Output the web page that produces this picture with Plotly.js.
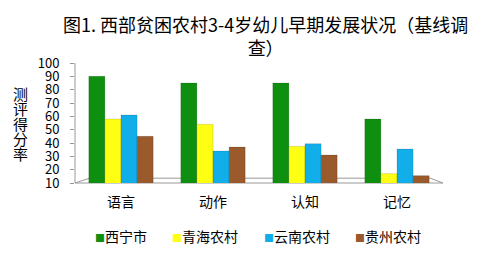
<!DOCTYPE html>
<html><head><meta charset="utf-8">
<script src="https://cdn.plot.ly/plotly-3.0.1.min.js"></script>
<style>body{margin:0;background:#fff}#c{width:477px;height:255px}</style>
</head><body><div id="c"></div>
<script>
const categories = ['语言', '动作', '认知', '记忆'];
const seriesNames = ['西宁市', '青海农村', '云南农村', '贵州农村'];
const xining = [90, 85, 85, 58];
const qinghai = [58, 54, 37.5, 17];
const yunnan = [61, 34, 39.5, 35.5];
const guizhou = [45, 37, 31, 15.5];
const yTicks = [10, 20, 30, 40, 50, 60, 70, 80, 90, 100];
const yTitleChars = ['测', '评', '得', '分', '率'];

const colors = ['#0f8f0f', '#ffff14', '#12aeea', '#9a5a2c'];
const values = [xining, qinghai, yunnan, guizhou];
const font = 'Noto Sans CJK SC, sans-serif';

const traces = values.map((v, i) => ({
  type: 'bar', x: categories, y: v, name: seriesNames[i],
  marker: {color: colors[i], line: {color: 'rgba(0,0,0,0.25)', width: 0.5}},
}));

const annotations = [
  {text: '图1. 西部贫困农村3-4岁幼儿早期发展状况（基线调<br>查）', xref: 'paper', yref: 'paper',
    x: 0.518, y: 1.45, xanchor: 'center', yanchor: 'top', showarrow: false,
    font: {size: 18, family: font, color: '#000'}}
];
yTitleChars.forEach((ch, i) => annotations.push({
  text: ch, xref: 'paper', yref: 'paper', x: -0.148, y: 0.75 - i * 0.125,
  xanchor: 'center', yanchor: 'middle', showarrow: false, font: {size: 15, family: font, color: '#000'}
}));
const legendX = [0.049, 0.257, 0.508, 0.755];
seriesNames.forEach((n, i) => annotations.push({
  text: '<span style="color:' + colors[i] + ';font-size:10px">■</span>' + n,
  xref: 'paper', yref: 'paper', x: legendX[i], y: -0.44, xanchor: 'left', yanchor: 'middle',
  showarrow: false, font: {size: 14, family: font, color: '#000'}
}));

const layout = {
  width: 477, height: 255,
  margin: {l: 75, r: 34, t: 63, b: 72},
  paper_bgcolor: '#fff', plot_bgcolor: '#fff',
  font: {family: font, color: '#000'},
  barmode: 'group', bargap: 0.3, bargroupgap: 0,
  xaxis: {tickfont: {size: 14}, showline: false, ticks: '', showgrid: false, ticklabelstandoff: 9},
  yaxis: {range: [10, 100], tickvals: yTicks, ticktext: yTicks.map(String),
    tickfont: {size: 13}, showgrid: false, showline: false, zeroline: false,
    ticks: 'outside', ticklen: 4, tickcolor: '#999', ticklabelstandoff: 8},
  showlegend: false,
  shapes: [
    {type: 'line', xref: 'paper', yref: 'paper', x0: 0, x1: 0, y0: 0, y1: 1, line: {color: '#999', width: 1}},
    {type: 'path', xref: 'paper', yref: 'paper',
      path: 'M 0 0 L 0.04 0.04 L 0.965 0.04 L 1 0 Z', fillcolor: 'rgba(0,0,0,0)', line: {color: '#999', width: 1}, layer: 'below'}
  ],
  annotations: annotations
};
Plotly.newPlot('c', traces, layout, {displayModeBar: false, staticPlot: true});
</script></body></html>
